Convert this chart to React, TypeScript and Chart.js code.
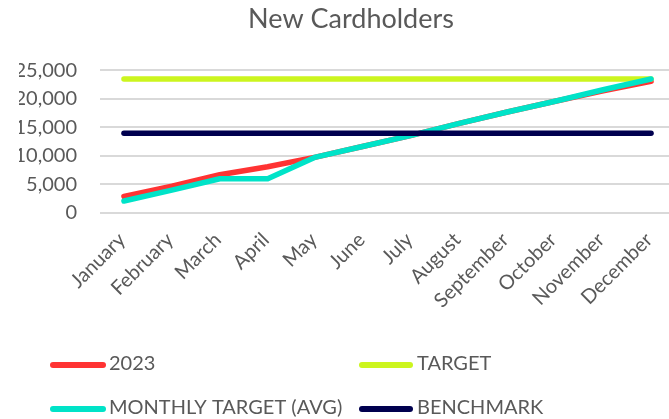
import { useEffect, useRef } from "react";
import { Chart, registerables } from "chart.js";

Chart.register(...registerables);

const months = [
  "January", "February", "March", "April", "May", "June",
  "July", "August", "September", "October", "November", "December",
];
const actual2023 = [2900, 4700, 6700, 8100, 9800, 11700, 13600, 15700, 17700, 19600, 21400, 23100];
const targetLine = [23500, 23500, 23500, 23500, 23500, 23500, 23500, 23500, 23500, 23500, 23500, 23500];
const monthlyTargetAvg = [2100, 4000, 6000, 6000, 9800, 11700, 13600, 15700, 17700, 19600, 21600, 23500];
const benchmarkLine = [14000, 14000, 14000, 14000, 14000, 14000, 14000, 14000, 14000, 14000, 14000, 14000];

const seriesNames = ["2023", "TARGET", "MONTHLY TARGET (AVG)", "BENCHMARK"];
const seriesColors = ["#FF3333", "#CCF51E", "#00E3C8", "#00004F"];

const yMin = 0;
const yMax = 25000;
const yStep = 5000;

const TEXT = "#595959";
const FONT = "Lato, 'Open Sans', sans-serif";

const legendPlugin = {
  id: "gridLegend",
  afterDraw(chart: any) {
    const ctx = chart.ctx;
    const cols = [{ lx0: 53, lx1: 103, tx: 109 }, { lx0: 362, lx1: 410, tx: 417 }];
    const rows = [365, 409];
    ctx.save();
    chart.data.datasets.forEach((ds: any, i: number) => {
      const c = cols[i % 2];
      const y = rows[Math.floor(i / 2)];
      ctx.strokeStyle = ds.borderColor;
      ctx.lineWidth = 6;
      ctx.lineCap = "round";
      ctx.beginPath();
      ctx.moveTo(c.lx0, y);
      ctx.lineTo(c.lx1, y);
      ctx.stroke();
      ctx.fillStyle = TEXT;
      ctx.font = `20px ${FONT}`;
      ctx.textBaseline = "middle";
      ctx.textAlign = "left";
      ctx.fillText(ds.label, c.tx, y - 1);
    });
    ctx.restore();
  },
};

export default function App() {
  const ref = useRef<HTMLCanvasElement>(null);

  useEffect(() => {
    if (!ref.current) return;
    const values = [actual2023, targetLine, monthlyTargetAvg, benchmarkLine];
    const chart = new Chart(ref.current, {
      type: "line",
      data: {
        labels: months,
        datasets: values.map((v, i) => ({
          label: seriesNames[i],
          data: v,
          borderColor: seriesColors[i],
          backgroundColor: seriesColors[i],
          borderWidth: 5.5,
          borderCapStyle: "round" as const,
          borderJoinStyle: "round" as const,
          pointRadius: 0,
          pointHoverRadius: 0,
          tension: 0,
          fill: false,
          order: 3 - i,
        })),
      },
      options: {
        responsive: false,
        animation: false,
        devicePixelRatio: 1,
        layout: { padding: { left: 19, right: 0, top: 0, bottom: 0 } },
        plugins: {
          legend: { display: false },
          tooltip: { enabled: false },
          title: {
            display: true,
            text: "New Cardholders",
            color: TEXT,
            font: { family: FONT, size: 27, weight: "normal" as const },
            padding: { top: 3, bottom: 35 },
          },
        },
        scales: {
          x: {
            offset: true,
            grid: { display: false, drawTicks: false },
            border: { display: false },
            ticks: {
              autoSkip: false,
              maxRotation: 45,
              minRotation: 45,
              padding: 15,
              labelOffset: -2,
              color: TEXT,
              font: { family: FONT, size: 20 },
            },
            afterFit: (s: any) => {
              s.height = 206;
            },
          },
          y: {
            min: yMin,
            max: yMax,
            grid: { color: "#D9D9D9", lineWidth: 2, drawTicks: false },
            border: { display: false },
            ticks: {
              stepSize: yStep,
              padding: 23,
              color: TEXT,
              font: { family: FONT, size: 20 },
              callback: (v: any) => Number(v).toLocaleString("en-US"),
            },
            afterFit: (s: any) => {
              s.width = 81;
            },
          },
        },
      },
      plugins: [legendPlugin],
    });
    return () => chart.destroy();
  }, []);

  return (
    <div
      style={{
        position: "fixed",
        left: 0,
        top: 0,
        width: 669,
        height: 419,
        overflow: "hidden",
        background: "#fff",
      }}
    >
      <canvas ref={ref} width={683} height={419} style={{ display: "block" }} />
    </div>
  );
}
